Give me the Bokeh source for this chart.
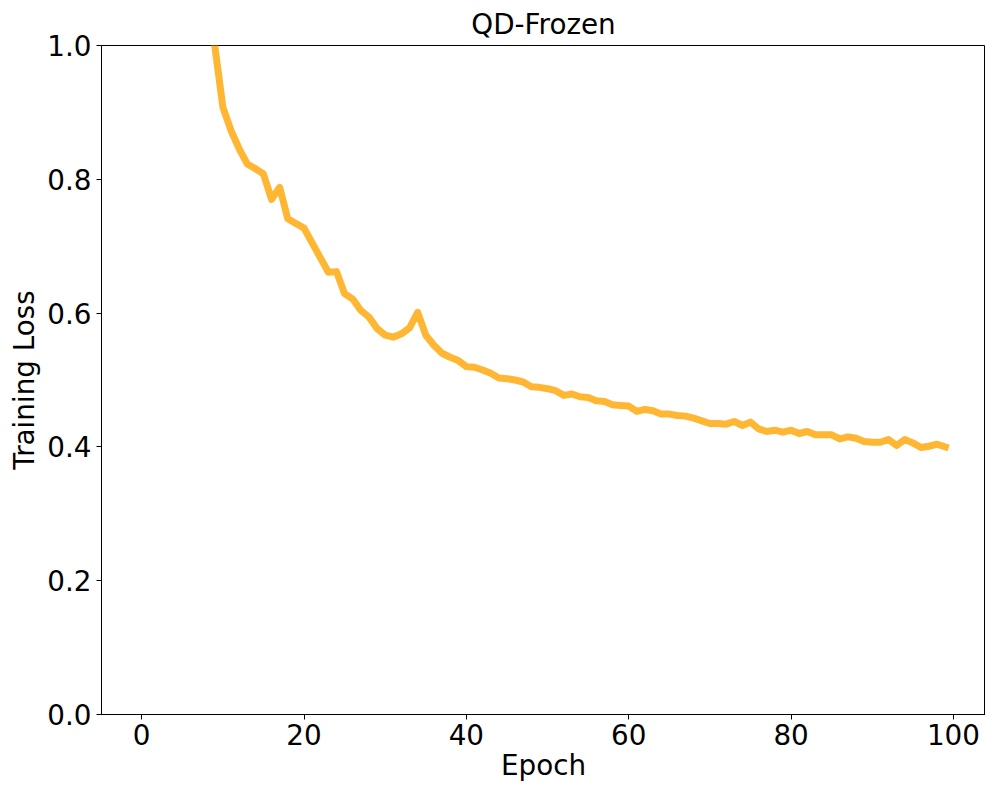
from bokeh.plotting import figure
from bokeh.models import Range1d, FixedTicker, PrintfTickFormatter, ColumnDataSource
from bokeh.embed import file_html
from bokeh.resources import INLINE

epochs = list(range(100))
train_loss = [
    2.45, 1.78, 1.52, 1.37, 1.26, 1.18, 1.11, 1.06, 1.025, 1.0,
    0.908, 0.873, 0.846, 0.823, 0.816, 0.808, 0.770, 0.788, 0.741, 0.734,
    0.727, 0.705, 0.683, 0.661, 0.662, 0.629, 0.621, 0.604, 0.594, 0.577,
    0.567, 0.564, 0.569, 0.578, 0.601, 0.567, 0.552, 0.540, 0.534, 0.529,
    0.520, 0.519, 0.515, 0.510, 0.503, 0.502, 0.500, 0.497, 0.490, 0.489,
    0.487, 0.484, 0.477, 0.479, 0.475, 0.474, 0.469, 0.468, 0.463, 0.462,
    0.461, 0.453, 0.456, 0.454, 0.449, 0.449, 0.447, 0.446, 0.443, 0.439,
    0.435, 0.435, 0.434, 0.438, 0.432, 0.437, 0.427, 0.423, 0.425, 0.422,
    0.425, 0.420, 0.423, 0.418, 0.418, 0.418, 0.412, 0.415, 0.413, 0.408,
    0.407, 0.407, 0.411, 0.402, 0.411, 0.406, 0.399, 0.401, 0.404, 0.400,
]
x_ticks = [0, 20, 40, 60, 80, 100]
y_ticks = [0.0, 0.2, 0.4, 0.6, 0.8, 1.0]
title_text = "QD-Frozen"
x_label = "Epoch"
y_label = "Training Loss"

FONT = "DejaVu Sans"
FS = "27.8px"

src = ColumnDataSource(dict(epoch=epochs, loss=train_loss))

p = figure(width=985, height=784, output_backend="svg", toolbar_location=None,
           x_range=Range1d(-4.95, 103.95), y_range=Range1d(0, 1),
           min_border_left=101, min_border_top=37, min_border_right=0, min_border_bottom=70)

p.line("epoch", "loss", source=src, line_color="orange", line_alpha=0.8,
       line_width=7, line_join="round", line_cap="square")

p.title.text = title_text
p.title.align = "center"
p.title.text_font = FONT
p.title.text_font_size = FS
p.title.text_font_style = "normal"
p.title.text_color = "black"

p.grid.visible = False
p.outline_line_color = "black"
p.outline_line_width = 1
p.outline_line_alpha = 1

for ax in (p.xaxis[0], p.yaxis[0]):
    ax.axis_line_color = "black"
    ax.major_tick_line_color = "black"
    ax.major_tick_out = 5
    ax.major_tick_in = 0
    ax.minor_tick_line_color = None
    ax.major_label_text_font = FONT
    ax.major_label_text_font_size = FS
    ax.major_label_text_color = "black"
    ax.axis_label_text_font = FONT
    ax.axis_label_text_font_size = FS
    ax.axis_label_text_font_style = "normal"
    ax.axis_label_text_color = "black"
    ax.major_label_standoff = 5

p.xaxis.ticker = FixedTicker(ticks=x_ticks)
p.yaxis.ticker = FixedTicker(ticks=y_ticks)
p.yaxis.formatter = PrintfTickFormatter(format="%.1f")
p.xaxis.axis_label = x_label
p.yaxis.axis_label = y_label
p.xaxis.major_label_standoff = 4
p.xaxis.axis_label_standoff = 1
p.yaxis.axis_label_standoff = 3

open("out.html", "w").write(file_html(p, INLINE))
